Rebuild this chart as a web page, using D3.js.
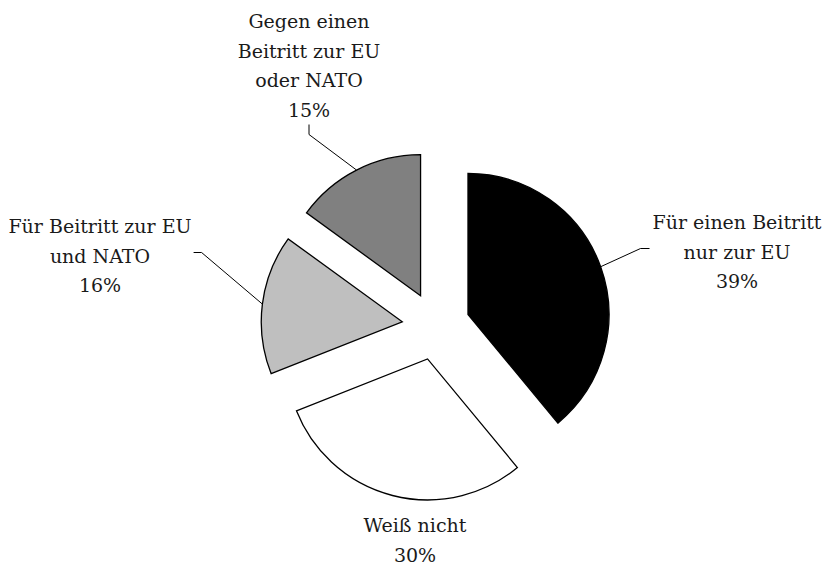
<!DOCTYPE html>
<html>
<head>
<meta charset="utf-8">
<script src="https://cdn.jsdelivr.net/npm/d3@7"></script>
<style>
  html, body { margin: 0; padding: 0; background: #fff; }
  #chart { width: 825px; height: 565px; }
  .leader { fill: none; stroke: #000; stroke-width: 1; }
</style>
</head>
<body>
<div id="chart"></div>
<script>
// data
const categories = ["Für einen Beitritt nur zur EU", "Weiß nicht", "Für Beitritt zur EU und NATO", "Gegen einen Beitritt zur EU oder NATO"];
const labelLines = [
  ["Für einen Beitritt", "nur zur EU"],
  ["Weiß nicht"],
  ["Für Beitritt zur EU", "und NATO"],
  ["Gegen einen", "Beitritt zur EU", "oder NATO"]
];
const values = [39, 30, 16, 15];
const colors = ["#000000", "#ffffff", "#bfbfbf", "#808080"];

// layout
const width = 825, height = 565;
const cx = 436, cy = 326;
const radius = 141, explode = 34;
const lineHeight = 29.5;
const fontFamily = "'DejaVu Serif', serif";
const fontSize = 19;
// label anchor: [center x, first baseline y], leader side
const labelAnchor = [[737, 229], [415, 532], [100, 233], [309, 28]];
const leaderSide = ["left", null, "right", "bottom"];

const svg = d3.select("#chart")
  .append("svg")
  .attr("width", width)
  .attr("height", height)
  .attr("viewBox", `0 0 ${width} ${height}`);

const pie = d3.pie().sort(null).value(d => d)(values);
const arc = d3.arc().innerRadius(0).outerRadius(radius);
const rim = d3.arc().innerRadius(radius).outerRadius(radius);

function offset(d) {
  const a = (d.startAngle + d.endAngle) / 2;
  return [cx + explode * Math.sin(a), cy - explode * Math.cos(a)];
}

svg.append("g")
  .selectAll("path")
  .data(pie)
  .enter()
  .append("path")
  .attr("transform", d => `translate(${offset(d)})`)
  .attr("d", arc)
  .attr("fill", (d, i) => colors[i])
  .attr("stroke", "#000")
  .attr("stroke-width", 1.3)
  .attr("stroke-linejoin", "miter");

const labels = svg.append("g")
  .selectAll("text")
  .data(pie)
  .enter()
  .append("text")
  .attr("font-family", fontFamily)
  .attr("font-size", fontSize)
  .attr("fill", "#1a1a1a")
  .attr("text-anchor", "middle");

labels.each(function(d, i) {
  const t = d3.select(this);
  const [x, y] = labelAnchor[i];
  const lines = labelLines[i].concat([values[i] + "%"]);
  lines.forEach((s, k) => {
    t.append("tspan").attr("x", x).attr("y", y + k * lineHeight).text(s);
  });
});

// leader lines from outer arc midpoint to label box
labels.each(function(d, i) {
  const side = leaderSide[i];
  if (!side) return;
  const bb = this.getBBox();
  const [ox, oy] = offset(d);
  const c = rim.centroid(d);
  const start = [ox + c[0], oy + c[1]];
  let pts;
  if (side === "left") {
    const y = bb.y + bb.height / 2 - 3;
    pts = [start, [bb.x - 12, y], [bb.x - 3, y]];
  } else if (side === "right") {
    const y = bb.y + bb.height / 2 - 3;
    pts = [start, [bb.x + bb.width + 10, y], [bb.x + bb.width + 2, y]];
  } else {
    const x = bb.x + bb.width / 2;
    const y = bb.y + bb.height;
    pts = [start, [x, y + 14], [x, y + 4]];
  }
  svg.append("path")
    .attr("class", "leader")
    .attr("d", d3.line()(pts));
});
</script>
</body>
</html>
